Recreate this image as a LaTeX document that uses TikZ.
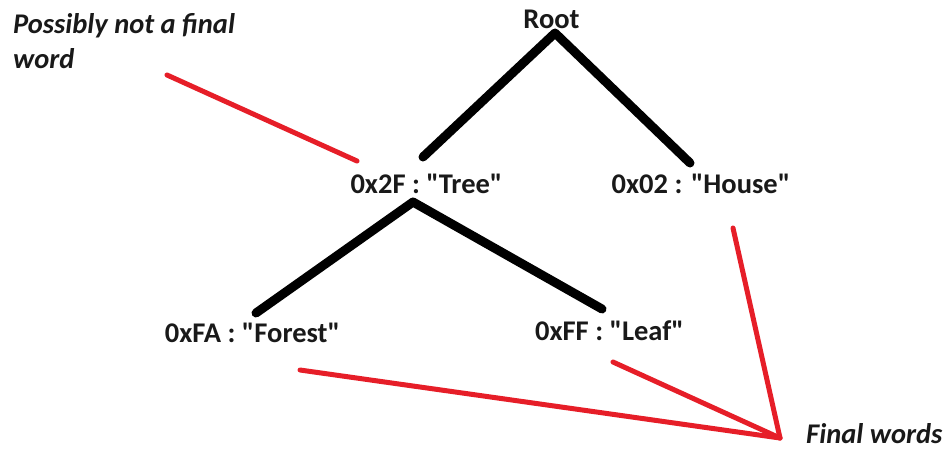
\documentclass[tikz,border=0pt]{standalone}
\usepackage{fontspec}
% straight quotes: no TeX quote mapping
\setmainfont{Carlito}[Ligatures=TeXOff]
\definecolor{penred}{RGB}{230,30,40}
\tikzset{
  label/.style={font=\fontsize{28.5}{34}\selectfont\bfseries, inner sep=0pt, anchor=base, text=black!90},
  note/.style={font=\fontsize{28.5}{35}\selectfont\bfseries\itshape, inner sep=0pt, anchor=base west, align=left, text=black!90},
  edge/.style={line width=9pt, line cap=round, line join=round, black},
  pointer/.style={line width=5pt, line cap=round, penred}
}
\begin{document}
\begin{tikzpicture}[x=1pt,y=-1pt]
  \useasboundingbox (0,0) rectangle (950,450);
  % tree nodes (text sits on its baseline)
  \node[label] (root)   at (551.5,28)  {Root};
  \node[label] (tree)   at (426.5,193) {0x2F : "Tree"};
  \node[label] (house)  at (701,193)   {0x02 : "House"};
  \node[label] (forest) at (252.5,342) {0xFA : "Forest"};
  \node[label] (leaf)   at (609.5,340) {0xFF : "Leaf"};
  % annotations (a two-line node is placed by its last baseline)
  \node[note] (possibly) at (13,68)  {Possibly not a final\\word};
  \node[note] (final)    at (806,443) {Final words};
  % end points of the branches
  \coordinate (root-j)   at (555,33);
  \coordinate (tree-in)  at (423,157);
  \coordinate (house-in) at (690,163);
  \coordinate (tree-j)   at (413,202);
  \coordinate (forest-in) at (256,313);
  \coordinate (leaf-in)  at (602,309);
  % end points of the pointers
  \coordinate (p-start)  at (167,75);
  \coordinate (p-end)    at (357,161);
  \coordinate (f-hub)    at (780,438);
  \coordinate (f-forest) at (300,370);
  \coordinate (f-leaf)   at (613,362);
  \coordinate (f-house)  at (733,228);
  % branches
  \draw[edge] (tree-in) -- (root-j) -- (house-in);
  \draw[edge] (forest-in) -- (tree-j) -- (leaf-in);
  % pointers
  \draw[pointer] (p-start) -- (p-end);
  \draw[pointer] (f-forest) -- (f-hub);
  \draw[pointer] (f-leaf) -- (f-hub);
  \draw[pointer] (f-house) -- (f-hub);
\end{tikzpicture}
\end{document}
